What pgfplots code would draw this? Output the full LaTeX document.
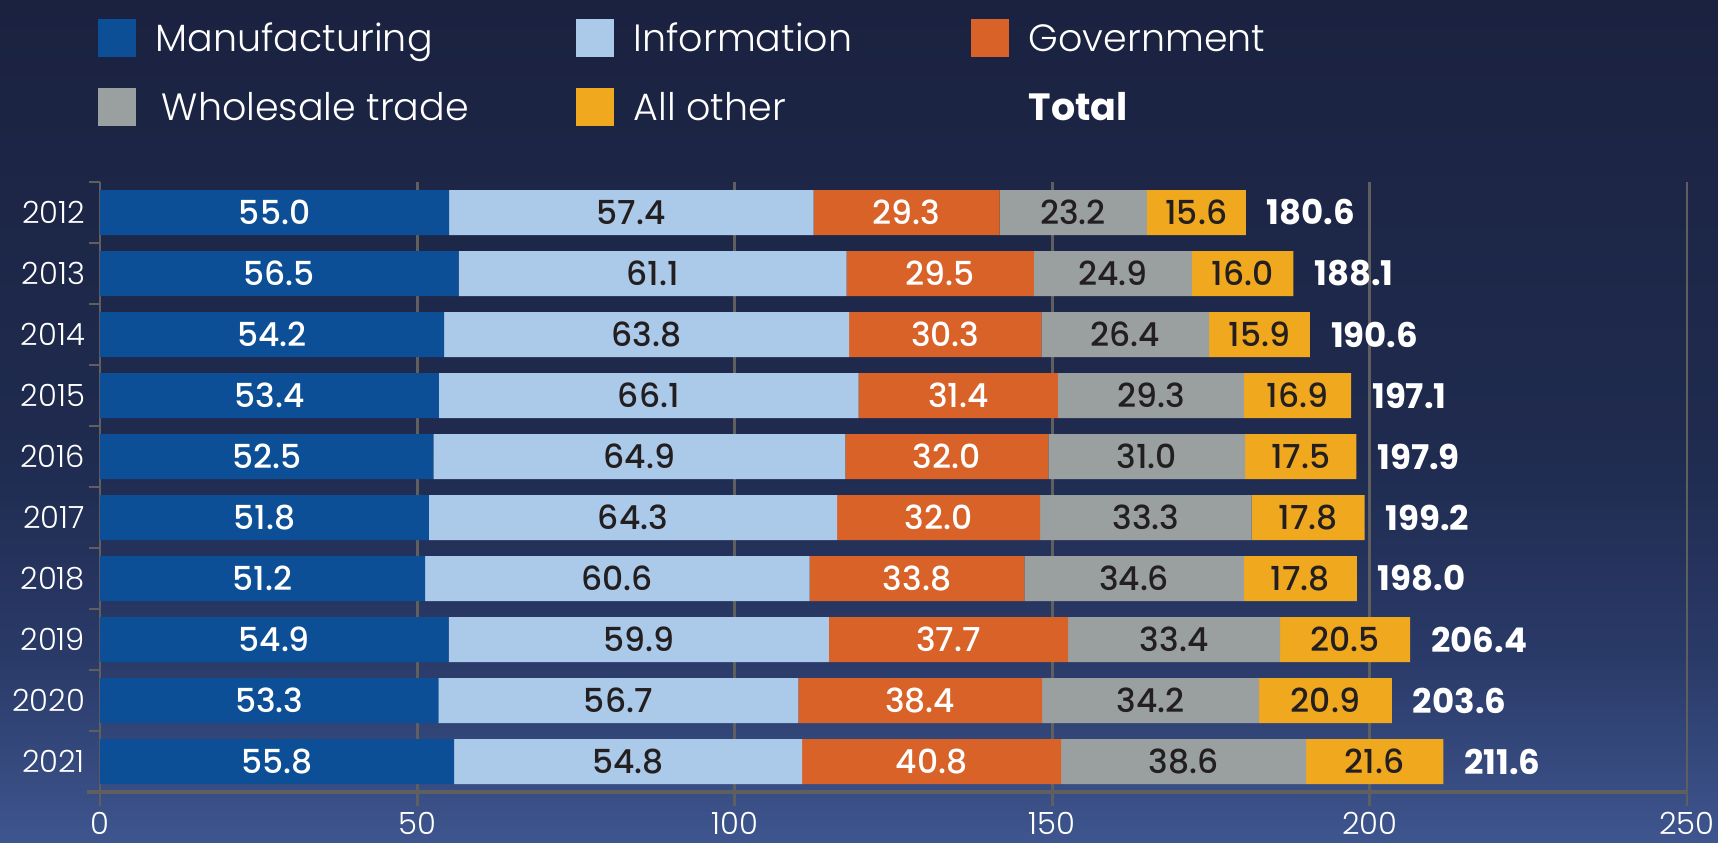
\documentclass[border=0pt]{standalone}
\usepackage{fontspec}
\setmainfont{Poppins}
\newfontfamily\medfont{Poppins Medium}
\newfontfamily\lightfont{Poppins Light}
\usepackage{pgfplots}
\usepackage{pgfplotstable}
\pgfplotsset{compat=1.18}
\definecolor{mancol}{HTML}{0D4F96}
\definecolor{infcol}{HTML}{ABC9E9}
\definecolor{govcol}{HTML}{D96228}
\definecolor{whocol}{HTML}{9AA0A0}
\definecolor{othcol}{HTML}{F0A91F}
\definecolor{gridgray}{HTML}{5F5F60}
\definecolor{darktxt}{HTML}{231F20}
\definecolor{bgtop}{HTML}{1B2240}
\definecolor{bgmid}{HTML}{1F2B4F}
\definecolor{bglow}{HTML}{2A3A68}
\definecolor{bgbot}{HTML}{3E558E}
\pgfdeclareverticalshading{bgshade}{100bp}{color(0bp)=(bgbot); color(25bp)=(bgbot); color(36bp)=(bglow); color(48bp)=(bgmid); color(75bp)=(bgtop); color(100bp)=(bgtop)}

\pgfplotstableread{
year man inf gov who oth total
2012 55.0 57.4 29.3 23.2 15.6 180.6
2013 56.5 61.1 29.5 24.9 16.0 188.1
2014 54.2 63.8 30.3 26.4 15.9 190.6
2015 53.4 66.1 31.4 29.3 16.9 197.1
2016 52.5 64.9 32.0 31.0 17.5 197.9
2017 51.8 64.3 32.0 33.3 17.8 199.2
2018 51.2 60.6 33.8 34.6 17.8 198.0
2019 54.9 59.9 37.7 33.4 20.5 206.4
2020 53.3 56.7 38.4 34.2 20.9 203.6
2021 55.8 54.8 40.8 38.6 21.6 211.6
}\data
% label positions: centres of the stacked segments, and the end of each bar
\pgfplotstablecreatecol[create col/expr={\thisrow{man}/2}]{cman}\data
\pgfplotstablecreatecol[create col/expr={\thisrow{man}+\thisrow{inf}/2}]{cinf}\data
\pgfplotstablecreatecol[create col/expr={\thisrow{man}+\thisrow{inf}+\thisrow{gov}/2}]{cgov}\data
\pgfplotstablecreatecol[create col/expr={\thisrow{man}+\thisrow{inf}+\thisrow{gov}+\thisrow{who}/2}]{cwho}\data
\pgfplotstablecreatecol[create col/expr={\thisrow{man}+\thisrow{inf}+\thisrow{gov}+\thisrow{who}+\thisrow{oth}/2}]{coth}\data
\pgfplotstablecreatecol[create col/expr={\thisrow{man}+\thisrow{inf}+\thisrow{gov}+\thisrow{who}+\thisrow{oth}}]{cend}\data

\newcommand\barfont{\medfont\fontsize{16.5}{19}\selectfont}
\pgfplotsset{
  swatch/.style={legend image code/.code={\fill[##1,draw=none] (0pt,-2.8pt) rectangle (19pt,16.2pt);}},
  common/.style={at={(50pt,25pt)}, anchor=south west,
    scale only axis, width=793.5pt, height=305pt,
    xmin=0, xmax=250, ymin=2011.5, ymax=2021.5, y dir=reverse, clip=false},
  lab/.style={only marks, mark=none, nodes near coords, point meta=explicit symbolic,
    every node near coord/.append style={anchor=center, font=\barfont, text=#1}},
}

\begin{document}
\begin{tikzpicture}
\shade[shading=bgshade] (0,0) rectangle (859pt,421pt);
\useasboundingbox (0,0) rectangle (859pt,421pt);
\begin{axis}[
  common,
  xbar stacked, bar width=22.5pt,
  axis line style={draw=none},
  xtick={0,50,100,150,200,250}, xticklabels={0,50,100,150,200,250},
  xmajorgrids, grid style={gridgray, line width=1.4pt},
  xtick pos=left, ytick pos=left,
  tick align=outside,
  major tick length=7pt, minor tick length=5.5pt,
  x tick style={gridgray, line width=1.4pt},
  ytick={2012,2013,2014,2015,2016,2017,2018,2019,2020,2021},
  yticklabels={2012,2013,2014,2015,2016,2017,2018,2019,2020,2021},
  major y tick style={draw=none},
  minor ytick={2011.5,2012.5,2013.5,2014.5,2015.5,2016.5,2017.5,2018.5,2019.5,2020.5,2021.5},
  minor y tick style={gridgray, line width=1.4pt},
  tick label style={font=\lightfont\fontsize{15.3}{18}\selectfont, text=white},
  xticklabel style={inner sep=0pt, yshift=-3pt},
  yticklabel style={xshift=3pt},
  legend columns=3,
  legend style={at={(-0.0016,1.268)}, anchor=north west, draw=none, fill=none,
     inner sep=0pt, text=white, font=\lightfont\fontsize{19}{22}\selectfont,
     cells={anchor=base west}, row sep=15.5pt,
     nodes={inner sep=0pt},
     /tikz/every odd column/.append style={column sep=10pt}},
]
\addplot[fill=mancol, draw=none, swatch] table[x=man, y=year]{\data};
\addlegendentry{\makebox[210pt][l]{Manufacturing}}
\addplot[fill=infcol, draw=none, swatch] table[x=inf, y=year]{\data};
\addlegendentry{\makebox[168.5pt][l]{Information}}
\addplot[fill=govcol, draw=none, swatch] table[x=gov, y=year]{\data};
\addlegendentry{Government}
\addplot[fill=whocol, draw=none, swatch] table[x=who, y=year]{\data};
\addlegendentry{\makebox[210pt][l]{\hspace{3pt}Wholesale trade}}
\addplot[fill=othcol, draw=none, swatch] table[x=oth, y=year]{\data};
\addlegendentry{\makebox[168.5pt][l]{All other}}
\addlegendimage{legend image code/.code={}}
\addlegendentry{{\normalfont\bfseries Total}}
\draw[gridgray, line width=1.4pt] (axis cs:0,2011.5) -- (axis cs:0,2021.5);
\draw[gridgray, line width=2.2pt] ([xshift=-6.5pt]axis cs:0,2021.5) -- (axis cs:250,2021.5);
\end{axis}
\begin{axis}[common, hide axis]
\addplot[lab=white] table[x=cman, y=year, meta=man]{\data};
\addplot[lab=darktxt] table[x=cinf, y=year, meta=inf]{\data};
\addplot[lab=white] table[x=cgov, y=year, meta=gov]{\data};
\addplot[lab=darktxt] table[x=cwho, y=year, meta=who]{\data};
\addplot[lab=darktxt] table[x=coth, y=year, meta=oth]{\data};
\addplot[only marks, mark=none, nodes near coords, point meta=explicit symbolic,
   every node near coord/.append style={anchor=west, xshift=7pt, text=white, font=\bfseries\fontsize{17}{20}\selectfont}]
   table[x=cend, y=year, meta=total]{\data};
\end{axis}
\end{tikzpicture}
\end{document}
